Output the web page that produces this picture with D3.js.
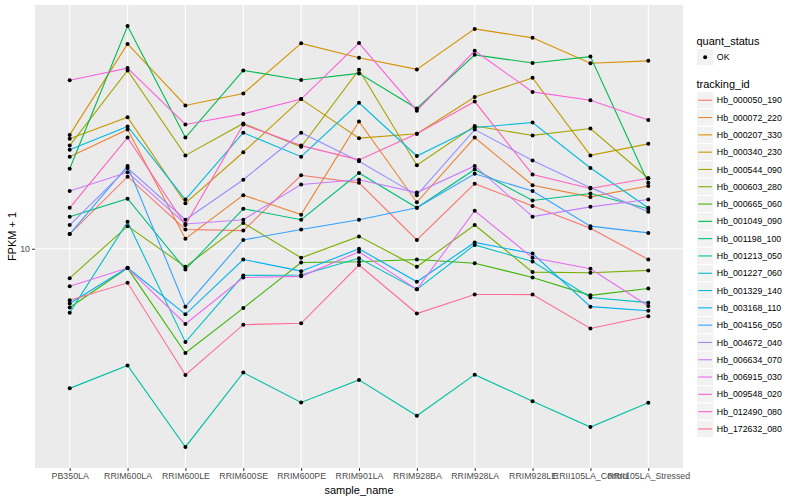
<!DOCTYPE html>
<html>
<head>
<meta charset="utf-8">
<script src="https://d3js.org/d3.v7.min.js"></script>
<style>
  body { margin: 0; background: #fff; }
  text { font-family: "Liberation Sans", Arial, Helvetica, sans-serif; }
</style>
</head>
<body>
<div id="chart"></div>
<script>
// Samples on the x axis.
var samples = ["PB350LA", "RRIM600LA", "RRIM600LE", "RRIM600SE", "RRIM600PE", "RRIM901LA",
               "RRIM928BA", "RRIM928LA", "RRIM928LE", "RRII105LA_Control", "RRII105LA_Stressed"];

// Genes (legend order).
var trackingIds = ["Hb_000050_190", "Hb_000072_220", "Hb_000207_330", "Hb_000340_230", "Hb_000544_090",
                   "Hb_000603_280", "Hb_000665_060", "Hb_001049_090", "Hb_001198_100", "Hb_001213_050",
                   "Hb_001227_060", "Hb_001329_140", "Hb_003168_110", "Hb_004156_050", "Hb_004672_040",
                   "Hb_006634_070", "Hb_006915_030", "Hb_009548_020", "Hb_012490_080", "Hb_172632_080"];

// FPKM + 1, one value per sample.
var hb_000050_190 = [11.2, 17.4, 11.6, 11.5, 17.6, 16.6, 10.7, 16.5, 13.9, 11.7, 9.21];
var hb_000072_220 = [20.3, 25.0, 10.8, 15.1, 13.0, 26.6, 14.3, 23.5, 16.3, 14.9, 16.2];
var hb_000207_330 = [24.0, 48.3, 30.1, 33.0, 48.5, 43.4, 39.7, 54.2, 50.6, 41.6, 42.4];
var hb_000340_230 = [23.3, 27.5, 14.2, 21.0, 31.6, 23.4, 24.2, 32.1, 37.2, 20.5, 22.4];
var hb_000544_090 = [22.1, 39.4, 20.5, 26.2, 21.9, 39.6, 19.0, 25.7, 23.9, 25.2, 17.2];
var hb_000603_280 = [7.98, 11.9, 8.71, 12.2, 9.33, 11.0, 8.71, 12.0, 8.36, 8.32, 8.47];
var hb_000665_060 = [6.37, 8.62, 4.49, 6.34, 9.00, 9.05, 9.21, 8.95, 8.02, 6.99, 7.37];
var hb_001049_090 = [18.5, 55.4, 23.5, 39.4, 36.6, 38.5, 29.4, 44.4, 41.7, 43.8, 16.6];
var hb_001198_100 = [12.8, 14.7, 8.53, 13.6, 12.5, 17.9, 13.7, 18.4, 14.5, 15.3, 13.6];
var hb_001213_050 = [3.42, 4.08, 2.18, 3.86, 3.07, 3.65, 2.77, 3.80, 3.10, 2.54, 3.06];
var hb_001227_060 = [6.12, 12.3, 4.88, 8.15, 8.17, 9.30, 7.32, 10.3, 9.07, 6.88, 6.61];
var hb_001329_140 = [21.4, 25.6, 14.6, 24.4, 20.3, 30.7, 20.4, 25.4, 26.4, 18.6, 13.7];
var hb_003168_110 = [6.57, 8.64, 6.04, 9.21, 8.42, 10.0, 7.76, 10.5, 9.64, 6.41, 6.21];
var hb_004156_050 = [11.2, 18.9, 6.41, 10.7, 11.6, 12.5, 13.7, 17.8, 15.6, 11.9, 11.3];
var hb_004672_040 = [12.0, 18.6, 12.5, 17.0, 24.4, 19.6, 15.1, 25.0, 19.7, 16.0, 13.3];
var hb_006634_070 = [15.6, 18.0, 12.1, 12.5, 16.4, 17.0, 15.4, 18.9, 12.8, 13.8, 14.6];
var hb_006915_030 = [7.50, 8.62, 5.61, 8.02, 8.09, 9.77, 7.32, 13.4, 9.33, 8.58, 6.44];
var hb_009548_020 = [36.5, 40.1, 26.0, 28.2, 31.6, 48.6, 28.9, 45.8, 33.4, 31.3, 26.9];
var hb_012490_080 = [13.7, 23.5, 12.0, 26.0, 22.1, 19.8, 24.2, 31.0, 17.7, 15.9, 17.2];
var hb_172632_080 = [6.73, 7.70, 3.79, 5.58, 5.64, 8.82, 6.08, 7.04, 7.03, 5.42, 5.95];

var seriesValues = [hb_000050_190, hb_000072_220, hb_000207_330, hb_000340_230, hb_000544_090,
                    hb_000603_280, hb_000665_060, hb_001049_090, hb_001198_100, hb_001213_050,
                    hb_001227_060, hb_001329_140, hb_003168_110, hb_004156_050, hb_004672_040,
                    hb_006634_070, hb_006915_030, hb_009548_020, hb_012490_080, hb_172632_080];

var yTicks = [10];
var statusLabels = ["OK"];

// Layout.
var width = 800, height = 500;
var panel = {left: 35, right: 683, top: 5, bottom: 468};
var colours = ["#F8766D", "#EA8331", "#D89000", "#C09B00", "#A3A500", "#7CAE00", "#39B600",
               "#00BB4E", "#00BF7D", "#00C1A3", "#00BFC4", "#00BAE0", "#00B0F6", "#35A2FF",
               "#9590FF", "#C77CFF", "#E76BF3", "#FA62DB", "#FF62BC", "#FF6C91"];

var svg = d3.select("#chart").append("svg")
        .attr("width", width)
        .attr("height", height);

// Scales: discrete x with ggplot-like 0.6 padding, log y with 5% expansion.
var x = d3.scalePoint()
        .domain(samples)
        .range([panel.left, panel.right])
        .padding(0.6);
var all = d3.merge(seriesValues);
var lo = Math.log10(d3.min(all)), hi = Math.log10(d3.max(all));
var pad = (hi - lo) * 0.05;
var y = d3.scaleLog()
        .domain([Math.pow(10, lo - pad), Math.pow(10, hi + pad)])
        .range([panel.bottom, panel.top]);

// Panel background and grid.
svg.append("rect")
        .attr("x", panel.left)
        .attr("y", panel.top)
        .attr("width", panel.right - panel.left)
        .attr("height", panel.bottom - panel.top)
        .style("fill", "#EBEBEB");
svg.append("g").selectAll("line").data(samples).enter().append("line")
        .attr("x1", function(d) { return x(d); })
        .attr("x2", function(d) { return x(d); })
        .attr("y1", panel.top)
        .attr("y2", panel.bottom)
        .style("stroke", "#fff")
        .style("stroke-width", 1.1);
svg.append("g").selectAll("line").data(yTicks).enter().append("line")
        .attr("x1", panel.left)
        .attr("x2", panel.right)
        .attr("y1", function(d) { return y(d); })
        .attr("y2", function(d) { return y(d); })
        .style("stroke", "#fff")
        .style("stroke-width", 1.1);

// Axes.
var xAxis = svg.append("g")
        .attr("transform", "translate(0," + panel.bottom + ")")
        .call(d3.axisBottom(x).tickSize(3).tickPadding(2));
var yAxis = svg.append("g")
        .attr("transform", "translate(" + panel.left + ",0)")
        .call(d3.axisLeft(y).tickValues(yTicks).tickFormat(d3.format("d")).tickSize(3).tickPadding(2));
[xAxis, yAxis].forEach(function(a) {
    a.select(".domain").remove();
    a.selectAll(".tick line").style("stroke", "#333");
    a.selectAll(".tick text")
            .style("fill", "#4D4D4D")
            .style("font-size", "8.8px")
            .style("font-family", "'Liberation Sans', Arial, sans-serif");
});

svg.append("text")
        .attr("x", (panel.left + panel.right) / 2)
        .attr("y", 494)
        .attr("text-anchor", "middle")
        .style("font-size", "11px")
        .text("sample_name");
svg.append("text")
        .attr("transform", "translate(16," + ((panel.top + panel.bottom) / 2) + ") rotate(-90)")
        .attr("text-anchor", "middle")
        .style("font-size", "11px")
        .text("FPKM + 1");

// Lines, then points on top.
var line = d3.line()
        .x(function(d, i) { return x(samples[i]); })
        .y(function(d) { return y(d); });
svg.append("g").selectAll("path").data(seriesValues).enter().append("path")
        .attr("d", line)
        .style("fill", "none")
        .style("stroke", function(d, i) { return colours[i]; })
        .style("stroke-width", 1.1);
svg.append("g").selectAll("g").data(seriesValues).enter().append("g")
        .selectAll("circle").data(function(d) { return d; }).enter().append("circle")
        .attr("cx", function(d, i) { return x(samples[i]); })
        .attr("cy", function(d) { return y(d); })
        .attr("r", 2)
        .style("fill", "#000");

// Legends.
var legX = 696.5, keySize = 17.3;
var leg = svg.append("g");
leg.append("text")
        .attr("x", legX)
        .attr("y", 44.5)
        .style("font-size", "11px")
        .text("quant_status");
var statusKeys = leg.selectAll("g.status").data(statusLabels).enter().append("g")
        .attr("class", "status")
        .attr("transform", function(d, i) { return "translate(" + legX + "," + (48.5 + i * keySize) + ")"; });
statusKeys.append("rect")
        .attr("width", keySize)
        .attr("height", keySize)
        .style("fill", "#F2F2F2")
        .style("stroke", "#fff");
statusKeys.append("circle")
        .attr("cx", keySize / 2)
        .attr("cy", keySize / 2)
        .attr("r", 2)
        .style("fill", "#000");
statusKeys.append("text")
        .attr("x", keySize + 3)
        .attr("y", keySize / 2)
        .attr("dy", "0.35em")
        .style("font-size", "8.8px")
        .text(function(d) { return d; });

leg.append("text")
        .attr("x", legX)
        .attr("y", 88)
        .style("font-size", "11px")
        .text("tracking_id");
var geneKeys = leg.selectAll("g.key").data(trackingIds).enter().append("g")
        .attr("class", "key")
        .attr("transform", function(d, i) { return "translate(" + legX + "," + (91.6 + i * keySize) + ")"; });
geneKeys.append("rect")
        .attr("width", keySize)
        .attr("height", keySize)
        .style("fill", "#F2F2F2")
        .style("stroke", "#fff");
geneKeys.append("line")
        .attr("x1", 1.7)
        .attr("x2", keySize - 1.7)
        .attr("y1", keySize / 2)
        .attr("y2", keySize / 2)
        .style("stroke", function(d, i) { return colours[i]; })
        .style("stroke-width", 1.1);
geneKeys.append("text")
        .attr("x", keySize + 3)
        .attr("y", keySize / 2)
        .attr("dy", "0.35em")
        .style("font-size", "8.8px")
        .text(function(d) { return d; });
</script>
</body>
</html>
